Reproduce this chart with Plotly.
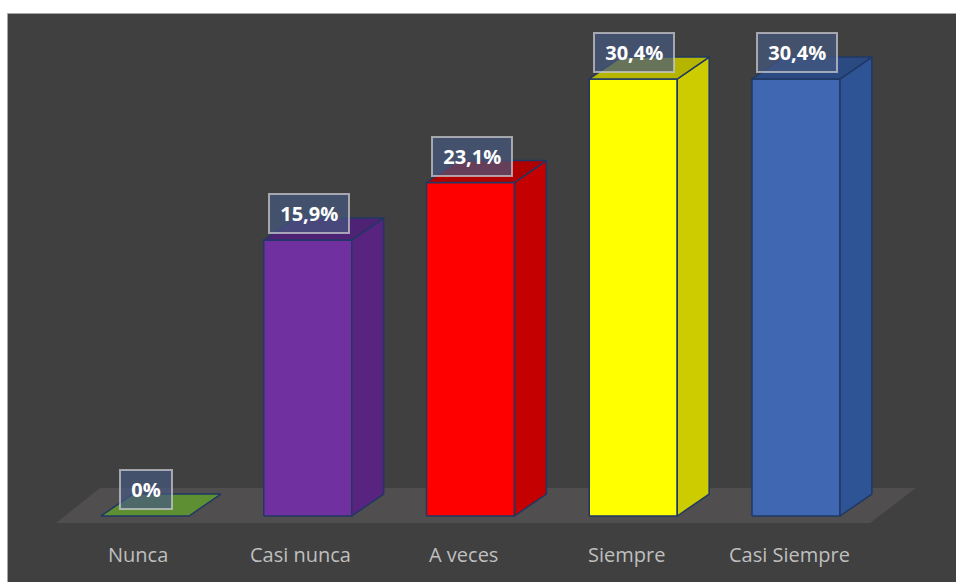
import plotly.graph_objects as go

# ---------------- data ----------------
categories = ["Nunca", "Casi nunca", "A veces", "Siempre", "Casi Siempre"]
bar_heights = [0.0, 19.2, 23.2, 30.4, 30.4]          # heights as drawn in the picture
value_labels = ["0%", "15,9%", "23,1%", "30,4%", "30,4%"]

# ---------------- style ----------------
front_colors = ["#5E8F32", "#7030A0", "#FF0000", "#FFFF00", "#4068B2"]
side_colors = ["#4E7A28", "#582480", "#C40000", "#CCCC00", "#2F5496"]
top_colors = ["#5E8F32", "#4E2275", "#B00000", "#B5B500", "#2B4A82"]
edge_color = "#1F3864"
BAR_W = 0.5407
DX, DY = 0.196, 1.53
W, H = 956, 582
BG = "#404040"
FLOOR = "#504E4E"

fig = go.Figure()

# floor (slab under the bars)
floor_x = [-0.547, 4.455, 4.737, -0.2765, -0.547]
floor_y = [-0.487, -0.487, 1.948, 1.948, -0.487]
fig.add_trace(go.Scatter(x=floor_x, y=floor_y, mode="lines", fill="toself",
                         fillcolor=FLOOR, line=dict(width=0), hoverinfo="skip",
                         showlegend=False))


def poly(xs, ys, color):
    fig.add_trace(go.Scatter(x=xs + [xs[0]], y=ys + [ys[0]], mode="lines",
                             fill="toself", fillcolor=color,
                             line=dict(color=edge_color, width=1.5),
                             hoverinfo="skip", showlegend=False))


for i, v in enumerate(bar_heights):
    xl, xr = i - BAR_W / 2, i + BAR_W / 2
    if v > 0:
        # front face
        poly([xl, xr, xr, xl], [0, 0, v, v], front_colors[i])
        # side face
        poly([xr, xr + DX, xr + DX, xr], [0, DY, v + DY, v], side_colors[i])
    # top face
    poly([xl, xr, xr + DX, xl + DX], [v, v, v + DY, v + DY], top_colors[i])

annotations = []
for i, (v, lab) in enumerate(zip(bar_heights, value_labels)):
    annotations.append(dict(
        x=i, y=v, xref="x", yref="y", xshift=1, yshift=26.5,
        text="<b>\u00a0" + lab + "\u00a0</b>", showarrow=False,
        font=dict(family="Open Sans", size=20, color="white"),
        bgcolor="rgba(70,88,128,0.70)", bordercolor="rgba(200,200,205,0.75)",
        borderwidth=2, borderpad=5, xanchor="center", yanchor="middle"))

for i, c in enumerate(categories):
    annotations.append(dict(
        x=i, y=-2.7, xref="x", yref="y", xshift=-7, text=c, showarrow=False,
        font=dict(family="Open Sans", size=20, color="#BFBFBF"),
        xanchor="center", yanchor="middle"))

shapes = [dict(type="rect", xref="paper", yref="paper", layer="below",
               x0=7.5 / W, x1=1.01, y0=-0.01, y1=1 - 13.5 / H,
               fillcolor=BG, line=dict(color="#A6A6A6", width=1))]

fig.update_layout(
    width=W, height=H, margin=dict(l=0, r=0, t=0, b=0),
    paper_bgcolor="white", plot_bgcolor="rgba(0,0,0,0)",
    xaxis=dict(range=[-145 / 162.75, (W - 145) / 162.75], visible=False,
               fixedrange=True),
    yaxis=dict(range=[(516 - H) / 14.375, 516 / 14.375], visible=False,
               fixedrange=True),
    shapes=shapes, annotations=annotations, showlegend=False,
)

fig.write_html("out.html")
